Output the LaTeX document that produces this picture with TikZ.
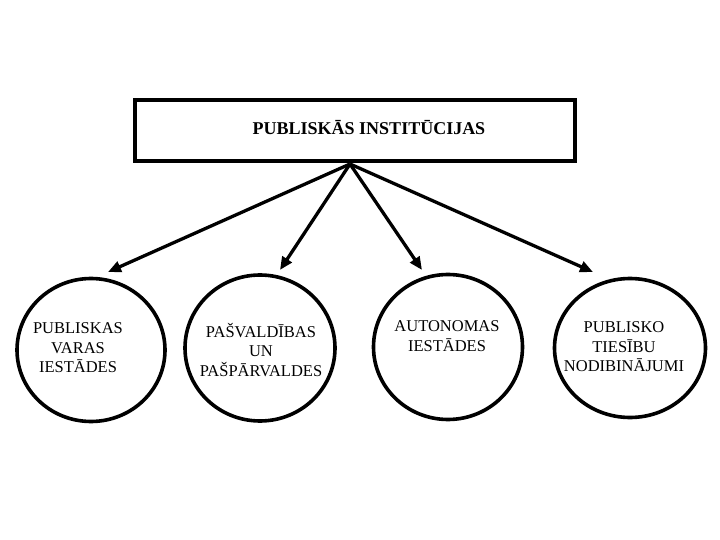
\documentclass[tikz,border=0pt]{standalone}
\usepackage{fontspec}
\setmainfont{Liberation Serif}
\usetikzlibrary{shapes.geometric,arrows.meta}
\begin{document}
\begin{tikzpicture}[x=1pt,y=-1pt,
  thick line/.style={line width=3.6pt},
  topbox/.style={draw,thick line,rectangle,minimum width=440pt,minimum height=61pt,inner sep=0pt},
  bubble/.style={draw,thick line,ellipse,inner sep=0pt},
  bubbletext/.style={align=center,font=\fontsize{16.5}{19.5}\selectfont},
  conn/.style={line width=3.3pt,-{Triangle[length=13pt,width=11pt]}}]
\useasboundingbox (0,0) rectangle (720,540);
\node[topbox] (top) at (355,130.5) {};
\node[font=\fontsize{18}{20}\selectfont\bfseries] (title) at (369,128) {PUBLISKĀS INSTITŪCIJAS};
\coordinate (apex) at (350,164);
\node[bubble,minimum width=148pt,minimum height=143pt] (c1) at (91,350) {};
\node[bubble,minimum width=150pt,minimum height=146pt] (c2) at (260,348) {};
\node[bubble,minimum width=149pt,minimum height=145pt] (c3) at (448,347) {};
\node[bubble,minimum width=151pt,minimum height=139pt] (c4) at (630,348) {};
\node[bubbletext] (l1) at (78,348) {PUBLISKAS\\VARAS\\IESTĀDES};
\node[bubbletext] (l2) at (261,350) {PAŠVALDĪBAS\\UN\\PAŠPĀRVALDES};
\node[bubbletext] (l3) at (447,336) {AUTONOMAS\\IESTĀDES};
\node[bubbletext] (l4) at (624,347) {PUBLISKO\\TIESĪBU\\NODIBINĀJUMI};
\coordinate (t1) at (108,272);
\coordinate (t2) at (280,270);
\coordinate (t3) at (422,270);
\coordinate (t4) at (593,272);
\draw[conn] (apex) -- (t1);
\draw[conn] (apex) -- (t2);
\draw[conn] (apex) -- (t3);
\draw[conn] (apex) -- (t4);
\end{tikzpicture}
\end{document}
